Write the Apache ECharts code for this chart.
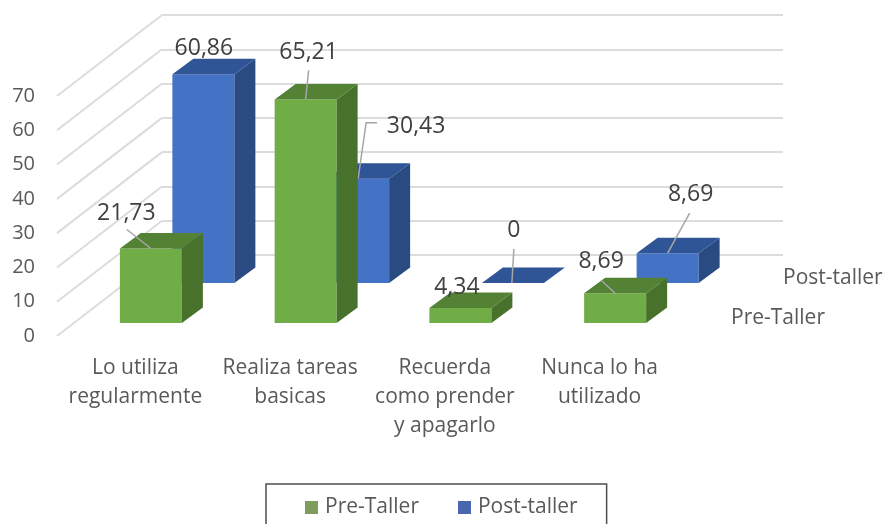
<!DOCTYPE html>
<html>
<head>
<meta charset="utf-8">
<style>
  html, body { margin: 0; background: #fff; }
  #chart { width: 886px; height: 524px; }
</style>
<script src="https://cdn.jsdelivr.net/npm/echarts@6/dist/echarts.min.js"></script>
</head>
<body>
<div id="chart"></div>
<script>
const categories = ['Lo utiliza\nregularmente', 'Realiza tareas\nbasicas', 'Recuerda\ncomo prender\ny apagarlo', 'Nunca lo ha\nutilizado']
const preTaller = [21.73, 65.21, 4.34, 8.69]
const postTaller = [60.86, 30.43, 0, 8.69]
const yTicks = [0, 10, 20, 30, 40, 50, 60, 70]

// label anchor relative to the top of each bar's front face, and its leader line
const preLabels = [
  { dx: -24.5, dy: -35.5, leader: [[-24, -19], [0, 0]] },
  { dx: 3, dy: -46.5, leader: [[3, -29], [0, 0]] },
  { dx: -3.5, dy: -20.5, leader: null },
  { dx: -14, dy: -31.5, leader: [[-14, -13], [0, 0]] }
]
const postLabels = [
  { dx: 0.5, dy: -25.5, leader: null },
  { dx: 58, dy: -52.5, leader: [[19, -56], [8, -56], [0, 0]] },
  { dx: 1, dy: -52.5, leader: [[1, -34], [-1, 0]] },
  { dx: 23, dy: -58.5, leader: [[22, -40], [0, 0]] }
]

const FONT = '"Open Sans", "Noto Sans", sans-serif'
const BAR_W = 62
const DEPTH_X = 21
const DEPTH_Y = 15.5

function barRenderer(colors, labels) {
  return function (params, api) {
    const c = api.coord([api.value(0), api.value(1)])
    const base = api.coord([api.value(0), 0])
    const l = c[0] - BAR_W / 2
    const r = c[0] + BAR_W / 2
    const t = c[1]
    const b = base[1]
    const info = labels[params.dataIndex]
    const face = (pts, fill) => ({ type: 'polygon', shape: { points: pts }, style: { fill } })
    const children = []
    if (b - t > 0.5) {
      children.push(face([[l, t], [r, t], [r, b], [l, b]], colors.front))
      children.push(face([[r, t], [r + DEPTH_X, t - DEPTH_Y], [r + DEPTH_X, b - DEPTH_Y], [r, b]], colors.side))
    }
    children.push(face([[l, t], [r, t], [r + DEPTH_X, t - DEPTH_Y], [l + DEPTH_X, t - DEPTH_Y]], colors.top))
    if (info.leader) {
      children.push({
        type: 'polyline',
        shape: { points: info.leader.map(p => [c[0] + p[0], t + p[1]]) },
        style: { stroke: '#a6a6a6', lineWidth: 1.5, fill: null }
      })
    }
    children.push({
      type: 'text',
      style: {
        x: c[0] + info.dx,
        y: t + info.dy,
        text: String(api.value(1)).replace('.', ','),
        align: 'center',
        verticalAlign: 'middle',
        fill: '#404040',
        font: '23px ' + FONT
      }
    })
    return { type: 'group', children }
  }
}

const chart = echarts.init(document.getElementById('chart'))

chart.setOption({
  animation: false,
  backgroundColor: '#fff',
  legend: {
    left: 266,
    top: 484,
    padding: [13, 29, 16, 39],
    itemWidth: 13,
    itemHeight: 13,
    itemGap: 39,
    borderColor: '#4d4d4d',
    borderWidth: 1.5,
    borderRadius: 0,
    textStyle: { color: '#595959', fontSize: 21, fontFamily: FONT, padding: [0, 0, 0, 2] },
    data: [
      { name: 'Pre-Taller', icon: 'rect', itemStyle: { color: '#7f9c5e' } },
      { name: 'Post-taller', icon: 'rect', itemStyle: { color: '#4a66ae' } }
    ]
  },
  // 0: front edge of the floor, carries the tick and category labels
  // 1: back wall, 2: Post-taller row, 3: Pre-Taller row
  grid: [
    { left: 58, width: 619, top: 96, height: 240 },
    { left: 162, width: 621, top: 15, height: 240 },
    { left: 126, width: 619, top: 43, height: 240 },
    { left: 73.5, width: 619, top: 83, height: 240 }
  ],
  xAxis: [
    {
      gridIndex: 0,
      type: 'category',
      data: categories,
      axisLine: { show: false },
      axisTick: { show: false },
      axisLabel: { color: '#595959', fontSize: 21, fontFamily: FONT, lineHeight: 29, margin: 18, interval: 0 }
    },
    { gridIndex: 1, type: 'category', data: categories, show: false },
    { gridIndex: 2, type: 'category', data: categories, show: false },
    { gridIndex: 3, type: 'category', data: categories, show: false }
  ],
  yAxis: [
    {
      gridIndex: 0,
      type: 'value',
      min: 0,
      max: 70,
      interval: 10,
      axisLine: { show: false },
      axisTick: { show: false },
      splitLine: { show: false },
      axisLabel: { color: '#595959', fontSize: 20, fontFamily: FONT, margin: 23 }
    },
    {
      gridIndex: 1,
      type: 'value',
      min: 0,
      max: 70,
      interval: 10,
      axisLine: { show: false },
      axisTick: { show: false },
      axisLabel: { show: false },
      splitLine: { lineStyle: { color: '#dcdcdc', width: 2 } }
    },
    { gridIndex: 2, type: 'value', min: 0, max: 70, show: false },
    { gridIndex: 3, type: 'value', min: 0, max: 70, show: false }
  ],
  series: [
    {
      // side wall grid lines
      type: 'custom',
      xAxisIndex: 0,
      yAxisIndex: 0,
      silent: true,
      z: 1,
      data: yTicks.map(v => [0, v]),
      encode: { x: 0, y: 1 },
      renderItem(params, api) {
        const p = api.coord([0, api.value(1)])
        const y = p[1]
        return {
          type: 'line',
          shape: { x1: 57, y1: y, x2: 162, y2: y - 81 },
          style: { stroke: '#dcdcdc', lineWidth: 2 }
        }
      }
    },
    {
      name: 'Post-taller',
      type: 'custom',
      xAxisIndex: 2,
      yAxisIndex: 2,
      z: 2,
      itemStyle: { color: '#4472c4' },
      data: postTaller.map((v, i) => [i, v]),
      encode: { x: 0, y: 1 },
      renderItem: barRenderer({ front: '#4472c4', side: '#2a4a82', top: '#2f5597' }, postLabels)
    },
    {
      name: 'Pre-Taller',
      type: 'custom',
      xAxisIndex: 3,
      yAxisIndex: 3,
      z: 3,
      itemStyle: { color: '#70ad47' },
      data: preTaller.map((v, i) => [i, v]),
      encode: { x: 0, y: 1 },
      renderItem: barRenderer({ front: '#70ad47', side: '#48722b', top: '#548235' }, preLabels)
    }
  ],
  graphic: [
    { type: 'text', left: 783, top: 268, style: { text: 'Post-taller', fill: '#595959', font: '21px ' + FONT } },
    { type: 'text', left: 731, top: 308, style: { text: 'Pre-Taller', fill: '#595959', font: '21px ' + FONT } }
  ]
})
</script>
</body>
</html>
